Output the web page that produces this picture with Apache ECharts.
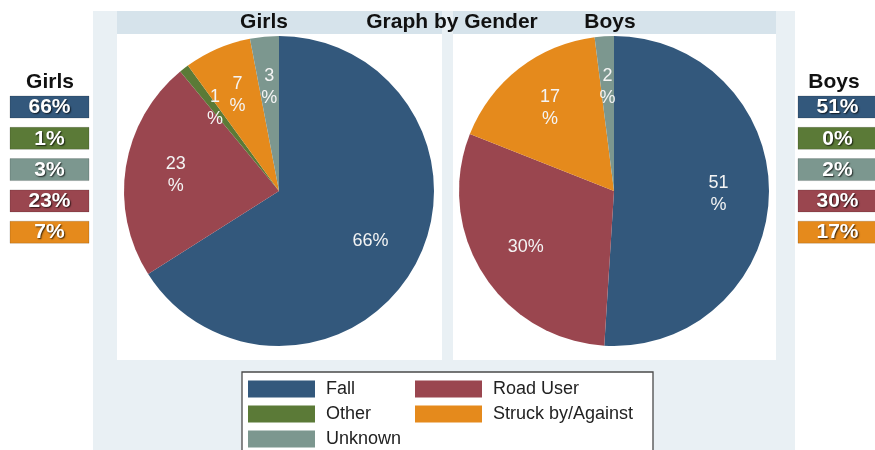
<!DOCTYPE html>
<html>
<head>
<meta charset="utf-8">
<script src="https://cdn.jsdelivr.net/npm/echarts@6/dist/echarts.min.js"></script>
<style>
html,body{margin:0;padding:0;background:#fff;}
#c{width:875px;height:450px;}
</style>
</head>
<body>
<div id="c"></div>
<script>
// ---- data ----
const categories = ['Fall', 'Road User', 'Other', 'Struck by/Against', 'Unknown'];
const girlsValues = [66, 23, 1, 7, 3];
const boysValues = [51, 30, 0, 17, 2];
const girlsLabels = ['66%', '23\n%', '1\n%', '7\n%', '3\n%'];
const boysLabels = ['51\n%', '30%', '', '17\n%', '2\n%'];
const sideOrder = ['Fall', 'Other', 'Unknown', 'Road User', 'Struck by/Against'];
const panelTitles = ['Girls', 'Boys'];
const mainTitle = 'Graph by Gender';

const colors = {
  'Fall': '#33587c',
  'Road User': '#9a464f',
  'Other': '#5b7a37',
  'Struck by/Against': '#e58a1c',
  'Unknown': '#7c978f'
};
const FONT = '"Liberation Sans", Arial, sans-serif';

function pieData(values, labels) {
  return categories.map((c, i) => ({
    name: c, value: values[i], itemStyle: { color: colors[c] },
    label: { formatter: labels[i] }
  }));
}

const R = 155;
const centers = [[279, 191], [614, 191]];

function visiblePie(values, center) {
  return {
    type: 'pie', center: center, radius: [0, R], startAngle: 90, clockwise: true,
    data: categories.map((c, i) => ({ name: c, value: values[i], itemStyle: { color: colors[c] } })),
    label: { show: false }, labelLine: { show: false }, silent: true,
    emphasis: { disabled: true }, animation: false
  };
}
function labelPie(values, labels, center) {
  return {
    type: 'pie', center: center, radius: [48, R], startAngle: 90, clockwise: true,
    data: pieData(values, labels).map(d => Object.assign(d, { itemStyle: { color: 'rgba(0,0,0,0)' } })),
    label: { show: true, position: 'inside', color: '#f4f4f4', fontSize: 18, lineHeight: 22, fontFamily: FONT, align: 'center' },
    labelLine: { show: false }, silent: true, emphasis: { disabled: true }, animation: false, z: 5
  };
}

// side boxes
function sideBoxes(values, x0, w, title, titleX) {
  const els = [{
    type: 'text', x: titleX, y: 82,
    style: { text: title, font: 'bold 21px ' + FONT, fill: '#111', textAlign: 'center', textVerticalAlign: 'middle' }
  }];
  sideOrder.forEach((name, k) => {
    const idx = categories.indexOf(name);
    const top = 96 + k * 31.3;
    els.push({
      type: 'rect', shape: { x: x0, y: top, width: w, height: 22 },
      style: { fill: colors[name], stroke: 'rgba(0,0,0,0.15)', lineWidth: 1 }
    });
    els.push({
      type: 'text', x: x0 + w / 2, y: top + 11.5,
      style: {
        text: values[idx] + '%', font: 'bold 21px ' + FONT, fill: '#fff',
        textAlign: 'center', textVerticalAlign: 'middle',
        textShadowColor: 'rgba(0,0,0,0.75)', textShadowOffsetX: 1, textShadowOffsetY: 1, textShadowBlur: 1.5
      }
    });
  });
  return els;
}

const bgEls = [
  { type: 'rect', shape: { x: 93, y: 11, width: 702, height: 439 }, style: { fill: '#e9f0f4' } },
  { type: 'rect', shape: { x: 117, y: 11, width: 325, height: 23 }, style: { fill: '#d6e3eb' } },
  { type: 'rect', shape: { x: 453, y: 11, width: 323, height: 23 }, style: { fill: '#d6e3eb' } },
  { type: 'rect', shape: { x: 117, y: 34, width: 325, height: 326 }, style: { fill: '#ffffff' } },
  { type: 'rect', shape: { x: 453, y: 34, width: 323, height: 326 }, style: { fill: '#ffffff' } },
  { type: 'rect', shape: { x: 242, y: 372, width: 411, height: 90 }, style: { fill: '#ffffff', stroke: '#4a4a4a', lineWidth: 1.3 } },
  { type: 'text', x: 264, y: 22, style: { text: panelTitles[0], font: 'bold 21px ' + FONT, fill: '#111', textAlign: 'center', textVerticalAlign: 'middle' } },
  { type: 'text', x: 610, y: 22, style: { text: panelTitles[1], font: 'bold 21px ' + FONT, fill: '#111', textAlign: 'center', textVerticalAlign: 'middle' } },
  { type: 'text', x: 452, y: 22, style: { text: mainTitle, font: 'bold 21px ' + FONT, fill: '#111', textAlign: 'center', textVerticalAlign: 'middle' } }
];

const chart = echarts.init(document.getElementById('c'), null, { renderer: 'canvas' });
const legendCommon = {
  orient: 'vertical', top: 380, height: 150, itemWidth: 67, itemHeight: 17, itemGap: 7,
  icon: 'rect', selectedMode: false, padding: 0,
  textStyle: { fontSize: 18, color: '#222', fontFamily: FONT, lineHeight: 14, padding: [3, 0, 0, 6] },
  itemStyle: { borderWidth: 0 }
};
chart.setOption({
  animation: false,
  graphic: [
    { type: 'group', z: 0, children: bgEls },
    { type: 'group', z: 0, children: sideBoxes(girlsValues, 10, 79, panelTitles[0], 50) },
    { type: 'group', z: 0, children: sideBoxes(boysValues, 798, 79, panelTitles[1], 834) }
  ],
  legend: [
    Object.assign({}, legendCommon, { left: 248, data: ['Fall', 'Other', 'Unknown'] }),
    Object.assign({}, legendCommon, { left: 415, data: ['Road User', 'Struck by/Against'] })
  ],
  series: [
    visiblePie(girlsValues, centers[0]),
    visiblePie(boysValues, centers[1]),
    labelPie(girlsValues, girlsLabels, centers[0]),
    labelPie(boysValues, boysLabels, centers[1])
  ]
});
</script>
</body>
</html>
